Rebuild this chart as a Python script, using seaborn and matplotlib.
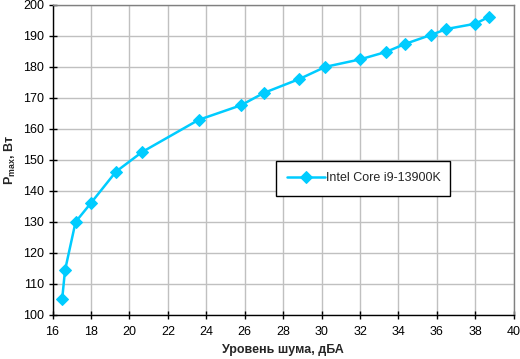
import matplotlib
matplotlib.use("Agg")
import matplotlib.pyplot as plt
import seaborn as sns
import pandas as pd

noise_dba = [16.5, 16.65, 17.2, 18.0, 19.3, 20.65, 23.6, 25.8, 27.0, 28.85, 30.2, 32.0, 33.35, 34.35, 35.7, 36.5, 38.0, 38.7]
power_w = [105.0, 114.4, 130.0, 136.1, 146.2, 152.5, 162.9, 167.6, 171.6, 176.1, 180.0, 182.4, 184.8, 187.4, 190.3, 192.2, 193.9, 196.1]
series_name = "Intel Core i9-13900K"
x_ticks = list(range(16, 41, 2))
y_ticks = list(range(100, 201, 10))

df = pd.DataFrame({"x": noise_dba, "y": power_w, "series": series_name})

sns.set_theme(style="white")
plt.rcParams['font.family'] = ['Liberation Sans', 'DejaVu Sans']
plt.rcParams['mathtext.fontset'] = 'custom'
plt.rcParams['mathtext.rm'] = 'Liberation Sans:bold'
plt.rcParams['mathtext.bf'] = 'Liberation Sans:bold'

fig = plt.figure(figsize=(5.2, 3.59), dpi=100)
ax = fig.add_axes([0.101, 0.1226, 0.887, 0.864])

color = "#00CCFF"
sns.lineplot(data=df, x="x", y="y", hue="series", palette=[color], marker="D",
             markersize=6.5, markeredgecolor=color, linewidth=1.8, ax=ax, sort=False)

ax.set_xlim(16, 40)
ax.set_ylim(100, 200)
ax.set_xticks(x_ticks)
ax.set_yticks(y_ticks)
ax.tick_params(axis='both', labelsize=9, colors='black', length=6, width=1, direction='inout')
ax.tick_params(axis='x', top=False, bottom=True, pad=5)
ax.tick_params(axis='y', left=True, right=False, pad=3)
ax.grid(True, color="#C0C0C0", linewidth=1)
ax.set_axisbelow(True)
for s in ['left', 'bottom']:
    ax.spines[s].set_color('black')
    ax.spines[s].set_linewidth(1)
for s in ['top', 'right']:
    ax.spines[s].set_color('#808080')
    ax.spines[s].set_linewidth(1)

ax.set_xlabel("Уровень шума, дБА", fontsize=9, fontweight='bold', labelpad=4)
ax.set_ylabel(r"P$_{\mathrm{max}}$, Вт", fontsize=9, fontweight='bold', labelpad=4)

leg = ax.legend(loc='lower left', bbox_to_anchor=(0.485, 0.385, 0.377, 0.139), mode='expand',
                frameon=True, fancybox=False, shadow=False, fontsize=9, borderaxespad=0,
                handlelength=3.0, handletextpad=0.1, borderpad=0.9)
leg.get_frame().set_edgecolor('black')
leg.get_frame().set_linewidth(1)
leg.get_frame().set_alpha(1)

fig.savefig("out.png", dpi=100)
